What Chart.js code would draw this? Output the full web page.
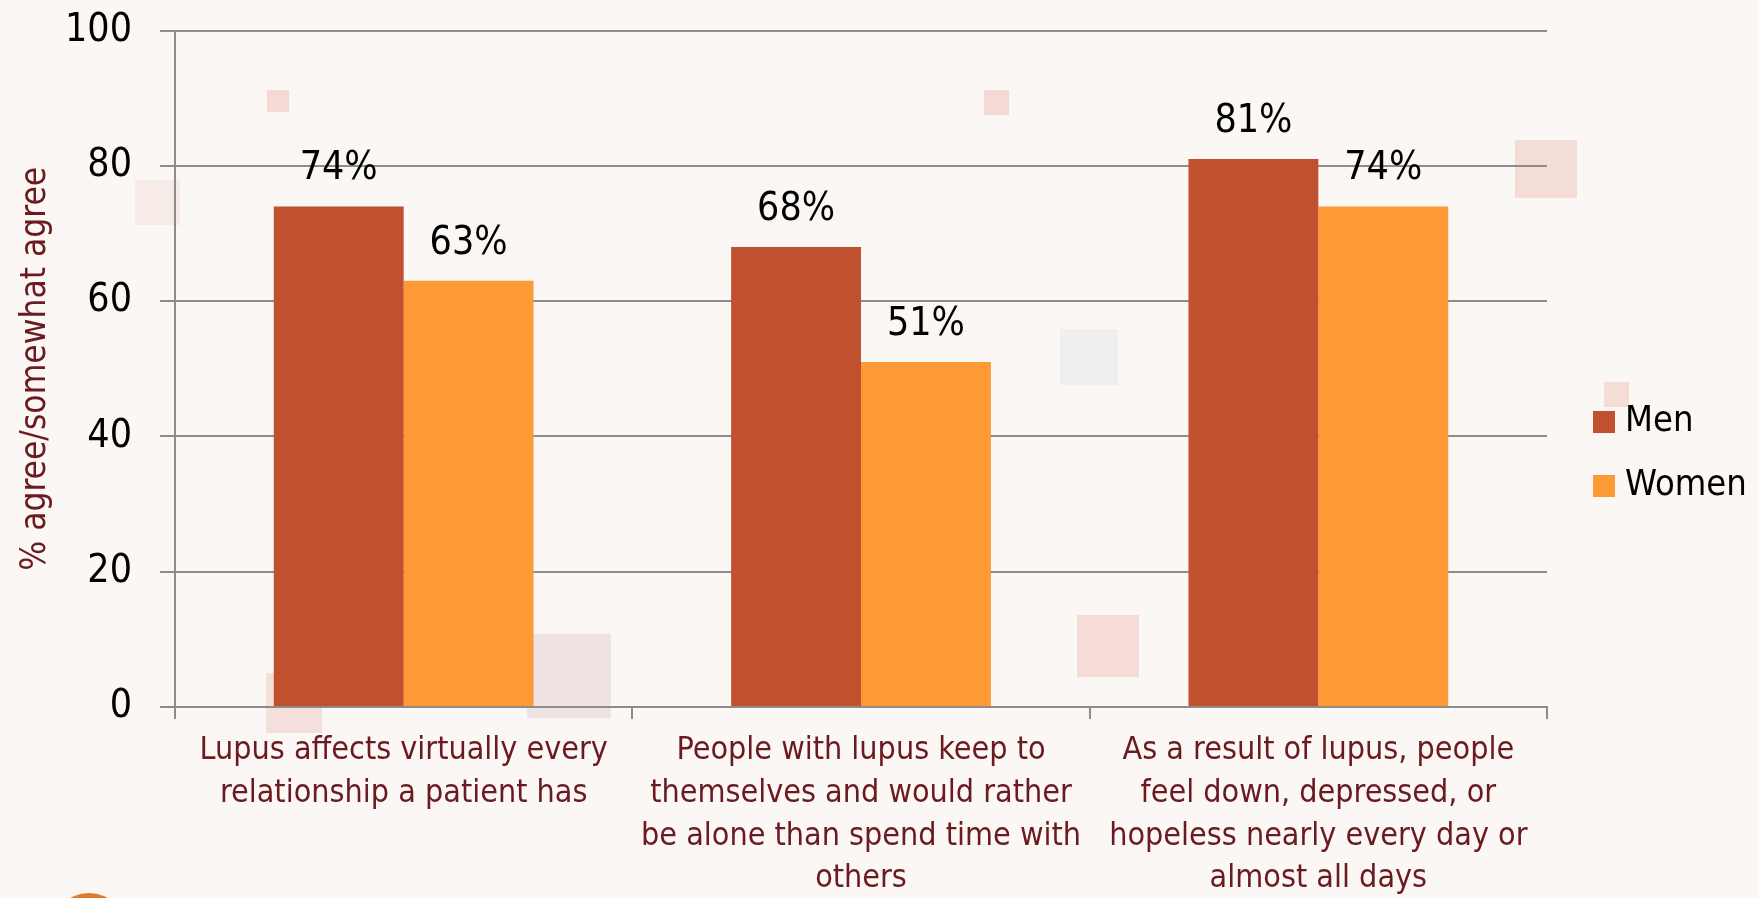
<!DOCTYPE html>
<html>
<head>
<meta charset="utf-8">
<script src="https://cdn.jsdelivr.net/npm/chart.js@4"></script>
<style>
  html, body { margin: 0; padding: 0; background: #faf7f4; }
  #wrap { position: relative; width: 1759px; height: 898px; overflow: hidden; }
  #myChart { position: absolute; left: 0; top: 0; }
  .badge { position: absolute; left: 50px; top: 893px; width: 78px; height: 78px; border-radius: 50%; background: #e27b2e; }
  .sq { position: absolute; }
</style>
</head>
<body>
<div id="wrap">
  <div class="sq" style="left:267px;top:90px;width:22px;height:22px;background:rgba(232,150,140,0.3)"></div>
  <div class="sq" style="left:984px;top:90px;width:25px;height:25px;background:rgba(232,150,140,0.3)"></div>
  <div class="sq" style="left:1515px;top:140px;width:62px;height:58px;background:rgba(232,160,150,0.3)"></div>
  <div class="sq" style="left:1077px;top:615px;width:62px;height:62px;background:rgba(235,160,150,0.3)"></div>
  <div class="sq" style="left:527px;top:634px;width:84px;height:84px;background:rgba(220,185,190,0.3)"></div>
  <div class="sq" style="left:1060px;top:329px;width:58px;height:56px;background:rgba(200,210,220,0.2)"></div>
  <div class="sq" style="left:266px;top:673px;width:56px;height:60px;background:rgba(235,170,160,0.3)"></div>
  <div class="sq" style="left:135px;top:180px;width:45px;height:45px;background:rgba(235,190,185,0.2)"></div>
  <div class="sq" style="left:1604px;top:382px;width:25px;height:25px;background:rgba(232,160,150,0.3)"></div>
  <canvas id="myChart" width="1759" height="898"></canvas>
  <div class="badge"></div>
</div>
<script>
const categories = [
	["Lupus affects virtually every", "relationship a patient has"],
	["People with lupus keep to", "themselves and would rather", "be alone than spend time with", "others"],
	["As a result of lupus, people", "feel down, depressed, or", "hopeless nearly every day or", "almost all days"]
];
const seriesNames = ["Men", "Women"];
const menValues = [74, 68, 81];
const womenValues = [63, 51, 74];
const yTicks = [0, 20, 40, 60, 80, 100];
const yTitle = "% agree/somewhat agree";

const family = "'Liberation Sans Narrow', 'DejaVu Sans Condensed', sans-serif";
const gridColor = '#8c8c8c';
const darkRed = '#6b1a1f';

// percentage labels above each bar
const valueLabels = {
	id: 'valueLabels',
	afterDatasetsDraw(chart) {
		const ctx = chart.ctx;
		ctx.save();
		ctx.font = '39px ' + family;
		ctx.fillStyle = '#000';
		ctx.textAlign = 'center';
		ctx.textBaseline = 'alphabetic';
		chart.data.datasets.forEach((ds, i) => {
			chart.getDatasetMeta(i).data.forEach((bar, j) => {
				ctx.fillText(ds.data[j] + '%', bar.x, bar.y - 27);
			});
		});
		ctx.restore();
	}
};

// legend on the right, drawn by hand so the gap matches
const sideLegend = {
	id: 'sideLegend',
	afterDraw(chart) {
		const ctx = chart.ctx;
		const x = chart.chartArea.right + 46;
		let y = chart.height / 2 - 27;
		ctx.save();
		ctx.font = '36px ' + family;
		ctx.textAlign = 'left';
		ctx.textBaseline = 'middle';
		chart.data.datasets.forEach(ds => {
			ctx.fillStyle = ds.backgroundColor;
			ctx.fillRect(x, y - 11, 22, 22);
			ctx.fillStyle = '#000';
			ctx.fillText(ds.label, x + 32, y);
			y += 64;
		});
		ctx.restore();
	}
};

var ctx = document.getElementById("myChart").getContext('2d');
var myChart = new Chart(ctx, {
	type: 'bar',
	data: {
		labels: categories,
		datasets: [{
			label: seriesNames[0],
			data: menValues,
			backgroundColor: '#c1502f'
		}, {
			label: seriesNames[1],
			data: womenValues,
			backgroundColor: '#fd9a35'
		}]
	},
	options: {
		responsive: false,
		animation: false,
		categoryPercentage: 0.568,
		barPercentage: 1,
		layout: {
			padding: { left: 0, right: 212, top: 0, bottom: 0 }
		},
		plugins: {
			legend: { display: false },
			tooltip: { enabled: false }
		},
		scales: {
			x: {
				ticks: {
					font: { family: family, size: 32, lineHeight: 1.34 },
					color: darkRed,
					padding: 10,
					maxRotation: 0,
					autoSkip: false
				},
				grid: { drawOnChartArea: false, tickLength: 12, color: gridColor, lineWidth: 2, offset: true },
				border: { color: gridColor, width: 2 },
				afterFit: scale => { scale.height = 191; }
			},
			y: {
				min: 0,
				max: 100,
				afterBuildTicks: scale => { scale.ticks = yTicks.map(v => ({ value: v })); },
				ticks: {
					// tiny lineHeight keeps the top label from pushing the plot down
					font: { family: family, size: 39, lineHeight: 0.13 },
					color: '#000',
					padding: 28
				},
				grid: { color: gridColor, lineWidth: 2, tickLength: 15 },
				border: { color: gridColor, width: 2 },
				title: {
					display: true,
					text: yTitle,
					color: darkRed,
					font: { family: family, size: 35 },
					padding: { top: 15, bottom: 0 }
				},
				afterFit: scale => { scale.width = 175; }
			}
		}
	},
	plugins: [valueLabels, sideLegend]
});
</script>
</body>
</html>
